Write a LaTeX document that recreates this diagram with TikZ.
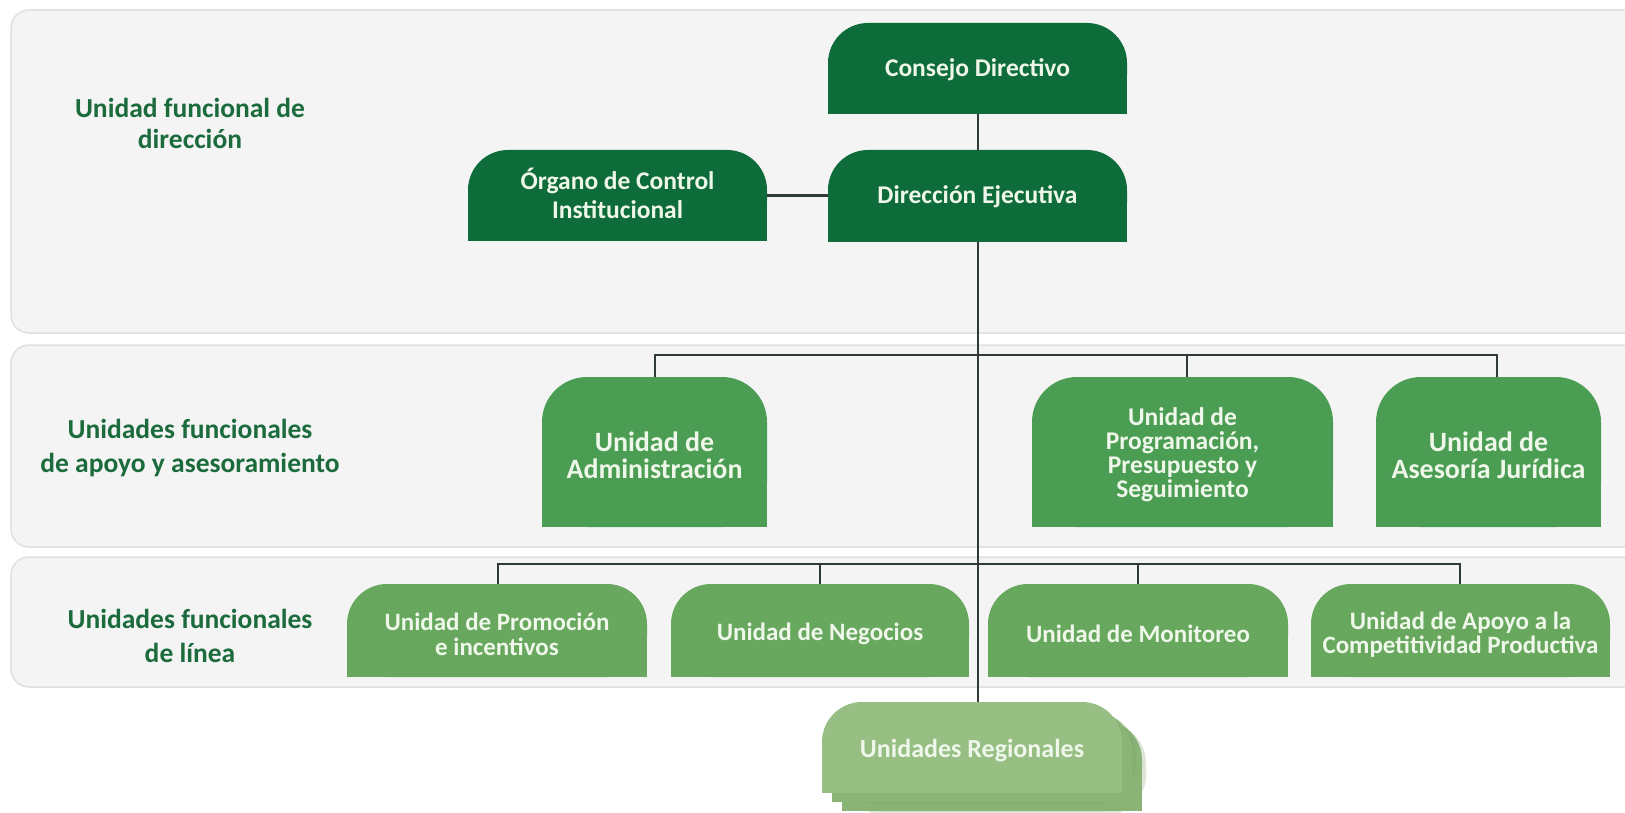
\documentclass[tikz,border=0pt]{standalone}
\usepackage{fontspec}
\setmainfont{Carlito}
\usetikzlibrary{calc}
\definecolor{dkg}{HTML}{0E6B3A}
\definecolor{mdg}{HTML}{4A9D52}
\definecolor{ltg}{HTML}{68A85E}
\definecolor{rgg}{HTML}{97BE83}
\definecolor{rgb2}{HTML}{8AB476}
\definecolor{lbltxt}{HTML}{1B6B3D}
\definecolor{boxtxt}{HTML}{EEF7E9}
\definecolor{panelfill}{HTML}{F4F4F4}
\definecolor{panelline}{HTML}{E0E0E0}
\definecolor{linec}{HTML}{2E3A33}
\newcommand\fone{\bfseries\fontsize{25.5}{29}\selectfont}
\newcommand\ftwo{\bfseries\fontsize{28}{27}\selectfont}
\newcommand\ftwos{\bfseries\fontsize{25.5}{24}\selectfont}
\newcommand\fthree{\bfseries\fontsize{25}{24.5}\selectfont}
\newcommand\freg{\bfseries\fontsize{26}{28}\selectfont}
\newcommand\flbla{\bfseries\fontsize{27.5}{31}\selectfont}
\newcommand\flbl{\bfseries\fontsize{27.5}{34}\selectfont}
\newcommand\obox[9]{%
  \fill[#6,rounded corners=#7pt] (#2,#3) rectangle (#4,#5);
  \fill[#6] (#2,{(#3+#5)/2}) rectangle (#4,#5);
  \node[inner sep=0pt,minimum width={(#4-#2)*1pt},minimum height={(#5-#3)*1pt}] (#1) at ({(#2+#4)/2},{(#3+#5)/2}) {};
  \node[btext,#8] (#1-t) at (#1.center) {#9};
}
\tikzset{
  btext/.style={text=boxtxt,align=center,inner sep=0pt},
  lbl/.style={text=lbltxt,align=center,font=\flbl,inner sep=0pt},
  panel/.style={fill=panelfill,draw=panelline,line width=1.5pt,rounded corners=18pt},
  conn/.style={draw=linec,line width=2.8pt},
}
\begin{document}
\begin{tikzpicture}[x=1pt,y=-1pt]
\useasboundingbox (0,0) rectangle (1625,813);
\clip (0,0) rectangle (1625,813);
\fill[white] (0,0) rectangle (1625,813);
% panels
\draw[panel] (11,10) rectangle (1680,333);
\draw[panel] (11,345) rectangle (1680,547);
\draw[panel] (11,557) rectangle (1680,687);
% labels
\node[lbl,font=\flbla] (l1) at (190,123) {Unidad funcional de\\dirección};
\node[lbl] (l2) at (190,448) {Unidades funcionales\\de apoyo y asesoramiento};
\node[lbl] (l3) at (190,636) {Unidades funcionales\\de línea};
% bus coordinates
\coordinate (b2l) at (655,355);
\coordinate (b2r) at (1497,355);
\coordinate (b2m) at (1187,355);
\coordinate (b3l) at (498,564);
\coordinate (b3r) at (1460,564);
% stacked regional boxes
\fill[rgb2!85!black,opacity=0.25,rounded corners=40pt] (845,723) rectangle (1146,815);
\fill[rgb2,rounded corners=40pt] (842,720) rectangle (1142,811);
\fill[rgb2] (842,766) rectangle (1142,811);
\fill[rgb2!90!black,opacity=0.3,rounded corners=40pt] (834,713) rectangle (1136,804);
\fill[rgb2,rounded corners=40pt] (832,711) rectangle (1132,802);
\fill[rgb2] (832,757) rectangle (1132,802);
% boxes
\obox{cd}{828}{23}{1127}{114}{dkg}{40}{font=\fone,yshift=-1pt}{Consejo Directivo}
\obox{de}{828}{150}{1127}{242}{dkg}{40}{font=\fone,yshift=-1pt}{Dirección Ejecutiva}
\obox{oc}{468}{150}{767}{241}{dkg}{40}{font=\fone,yshift=2pt}{Órgano de Control\\Institucional}
\obox{adm}{542}{377}{767}{527}{mdg}{45}{font=\ftwo,yshift=-3pt}{Unidad de\\Administración}
\obox{pps}{1032}{377}{1333}{527}{mdg}{45}{font=\ftwos,yshift=-3pt}{Unidad de\\Programación,\\Presupuesto y\\Seguimiento}
\obox{aj}{1376}{377}{1601}{527}{mdg}{45}{font=\ftwo,yshift=-3pt}{Unidad de\\Asesoría Jurídica}
\obox{upi}{347}{584}{647}{677}{ltg}{40}{font=\fthree,yshift=-4pt}{Unidad de Promoción\\e incentivos}
\obox{un}{671}{584}{969}{677}{ltg}{40}{font=\fthree,yshift=-3pt}{Unidad de Negocios}
\obox{um}{988}{584}{1288}{677}{ltg}{40}{font=\fthree,yshift=-3pt}{Unidad de Monitoreo}
\obox{uacp}{1311}{584}{1610}{677}{ltg}{40}{font=\fthree,yshift=-4pt}{Unidad de Apoyo a la\\Competitividad Productiva}
\obox{ur}{822}{702}{1122}{793}{rgg}{40}{font=\freg,yshift=-3pt}{Unidades Regionales}
% connectors
\draw[conn] (cd.south -| 978,0) -- (de.north -| 978,0);
\draw[conn] (oc.east) -- (de.west |- oc.east);
\draw[conn] (de.south -| 978,0) -- (ur.north -| 978,0);
\draw[conn,line cap=rect] (b2l) -- (b2r);
\draw[conn] (b2l) -- (adm.north -| b2l);
\draw[conn] (b2r) -- (aj.north -| b2r);
\draw[conn] (b2m) -- (pps.north -| b2m);
\draw[conn,line cap=rect] (b3l) -- (b3r);
\draw[conn] (b3l) -- (upi.north -| b3l);
\draw[conn] (un.north |- b3l) -- (un.north);
\draw[conn] (um.north |- b3l) -- (um.north);
\draw[conn] (b3r) -- (uacp.north -| b3r);
\end{tikzpicture}
\end{document}
